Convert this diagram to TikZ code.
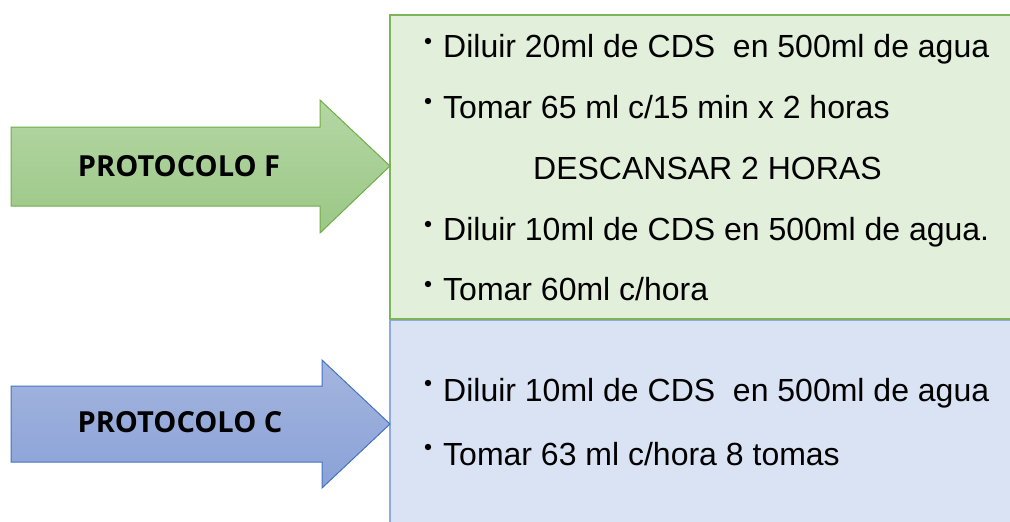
\documentclass[tikz,border=0pt]{standalone}
\usepackage{fontspec}
\setmainfont{Liberation Sans}
\newfontfamily\labelfont{Open Sans}
\begin{document}
\begin{tikzpicture}[x=1pt,y=-1pt,
  itemtext/.style={anchor=base west,inner sep=0pt,font=\fontsize{32}{38}\selectfont},
  labeltext/.style={anchor=center,inner sep=0pt,font=\labelfont\bfseries\fontsize{29}{34}\selectfont},
  bulletdot/.style={fill=black,draw=none}]
\definecolor{gfill}{HTML}{E2EFDA}
\definecolor{gborder}{HTML}{7CB45A}
\definecolor{bfill}{HTML}{DAE3F3}
\definecolor{bborder}{HTML}{8EA9DB}
\definecolor{gatop}{HTML}{B4D7A4}
\definecolor{gabot}{HTML}{9BC786}
\definecolor{gaborder}{HTML}{70AD47}
\definecolor{batop}{HTML}{A4B5DE}
\definecolor{babot}{HTML}{8AA2D8}
\definecolor{baborder}{HTML}{4472C4}
\useasboundingbox (0,0) rectangle (1010,522);
% boxes
\draw[fill=bfill,draw=bborder,line width=1.5pt] (390,320) rectangle (1016,530);
\draw[fill=gfill,draw=gborder,line width=1.5pt] (390,15) rectangle (1016,319);
% arrows
\draw[top color=gatop,bottom color=gabot,draw=gaborder,line width=1pt]
  (11,127) -- (320,127) -- (320,100) -- (390,166) -- (320,233) -- (320,206) -- (11,206) -- cycle;
\draw[top color=batop,bottom color=babot,draw=baborder,line width=1pt]
  (11,386) -- (322,386) -- (322,360) -- (390,424) -- (322,488) -- (322,462) -- (11,462) -- cycle;
\node[labeltext] (lf) at (179,166) {PROTOCOLO F};
\node[labeltext] (lc) at (180,422) {PROTOCOLO C};
% green items
\node[itemtext] (g1) at (443,57) {Diluir 20ml de CDS\ \ en 500ml de agua};
\node[itemtext] (g2) at (443,118) {Tomar 65 ml c/15 min x 2 horas};
\node[itemtext] (g3) at (533,179) {DESCANSAR 2 HORAS};
\node[itemtext] (g4) at (443,240) {Diluir 10ml de CDS en 500ml de agua.};
\node[itemtext] (g5) at (443,300) {Tomar 60ml c/hora};
\foreach \yy in {41,101,224,284} \fill[bulletdot] (428,\yy) circle (3.2);
% blue items
\node[itemtext] (b1) at (443,401) {Diluir 10ml de CDS\ \ en 500ml de agua};
\node[itemtext] (b2) at (443,465) {Tomar 63 ml c/hora 8 tomas};
\foreach \yy in {383,447} \fill[bulletdot] (428,\yy) circle (3.2);
\end{tikzpicture}
\end{document}
